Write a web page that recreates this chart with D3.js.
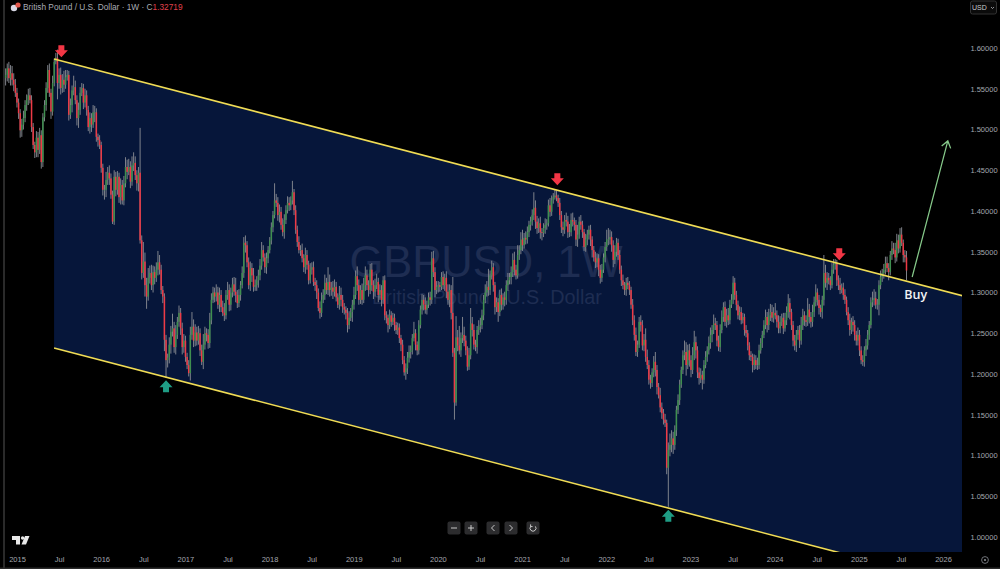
<!DOCTYPE html>
<html><head><meta charset="utf-8">
<script src="https://cdn.jsdelivr.net/npm/d3@7/dist/d3.min.js"></script>
<style>html,body{margin:0;padding:0;background:#000;overflow:hidden}svg{display:block}text{font-family:"Liberation Sans",Arial,sans-serif}</style>
</head><body><svg id="c" width="1000" height="569"></svg>
<script>
// weekly closes, in thousandths of a dollar
const closes = [
1563,1567,1575,1563,1569,1561,1555,1545,1533,1520,
1499,1506,1514,1530,1536,1542,1536,1503,1481,1472,
1490,1475,1493,1460,1515,1530,1551,1573,1545,1522,
1557,1583,1588,1557,1567,1551,1561,1555,1564,1567,
1518,1530,1548,1552,1536,1514,1524,1545,1551,1533,
1542,1524,1503,1514,1506,1521,1521,1491,1487,1481,
1453,1426,1426,1438,1447,1440,1420,1387,1442,1426,
1442,1417,1432,1413,1434,1454,1448,1454,1436,1456,
1459,1444,1434,1447,1364,1324,1338,1309,1295,1318,
1324,1309,1325,1318,1328,1337,1328,1303,1295,1242,
1217,1220,1236,1252,1256,1233,1248,1264,1275,1256,
1233,1241,1221,1211,1201,1248,1258,1241,1251,1241,
1250,1229,1215,1236,1250,1248,1238,1266,1291,1300,
1295,1300,1285,1297,1282,1275,1272,1297,1303,1285,
1300,1310,1301,1297,1287,1297,1309,1324,1361,1358,
1337,1309,1330,1321,1307,1309,1315,1321,1333,1352,
1343,1331,1342,1352,1364,1380,1395,1413,1410,1395,
1399,1383,1374,1389,1401,1410,1407,1413,1423,1401,
1377,1362,1352,1352,1342,1331,1346,1334,1315,1328,
1331,1313,1309,1300,1281,1275,1291,1297,1312,1303,
1313,1303,1306,1301,1307,1294,1285,1297,1291,1282,
1279,1275,1260,1269,1276,1285,1297,1320,1309,1291,
1303,1291,1309,1321,1309,1303,1328,1309,1301,1309,
1313,1297,1303,1291,1315,1272,1269,1260,1272,1264,
1269,1260,1254,1257,1244,1236,1217,1202,1207,1220,
1227,1229,1244,1250,1236,1229,1260,1279,1291,1285,
1279,1285,1294,1291,1342,1325,1303,1307,1309,1307,
1319,1309,1318,1301,1291,1303,1275,1226,1165,1245,
1235,1229,1244,1248,1241,1229,1209,1223,1262,1254,
1236,1233,1254,1258,1260,1272,1291,1300,1307,1303,
1321,1331,1309,1282,1288,1276,1297,1285,1294,1291,
1309,1315,1319,1325,1340,1328,1321,1346,1352,1365,
1358,1367,1365,1374,1383,1387,1395,1404,1387,1379,
1385,1374,1373,1379,1383,1385,1407,1399,1413,1417,
1419,1416,1410,1395,1380,1377,1389,1387,1374,1374,
1389,1387,1383,1365,1371,1387,1383,1374,1356,1365,
1371,1377,1365,1352,1343,1337,1342,1328,1318,1328,
1343,1356,1365,1365,1368,1358,1340,1350,1361,1346,
1328,1315,1309,1303,1312,1309,1303,1285,1266,1248,
1227,1236,1264,1260,1235,1242,1221,1211,1193,1189,
1202,1215,1205,1184,1174,1159,1152,1144,1140,1085,
1107,1113,1121,1113,1131,1156,1168,1187,1205,1223,
1227,1211,1229,1217,1205,1223,1239,1229,1202,1195,
1199,1193,1211,1221,1229,1238,1248,1254,1262,1260,
1241,1233,1254,1270,1282,1264,1272,1266,1285,1291,
1312,1297,1285,1272,1276,1266,1270,1254,1250,1235,
1223,1221,1211,1217,1211,1211,1229,1238,1248,1260,
1270,1260,1272,1276,1269,1275,1272,1264,1256,1264,
1269,1256,1266,1276,1287,1276,1260,1241,1235,1248,
1254,1241,1260,1272,1266,1264,1279,1270,1264,1276,
1288,1300,1291,1281,1276,1291,1324,1312,1318,1315,
1309,1328,1334,1336,1315,1309,1303,1306,1297,1291,
1276,1266,1254,1264,1260,1248,1241,1248,1229,1217,
1215,1229,1235,1248,1260,1288,1291,1293,1285,1285,
1309,1319,1324,1328,1336,1330,1325,1346,1354,1352,
1343,1364,1354,1371,1361,1346,1343,1327];
// upper wick of each week, thousandths
const upperWicks = [
9,8,6,8,10,9,8,7,6,5,
5,7,9,6,7,8,9,6,5,4,
8,7,9,6,5,6,7,6,8,5,
9,4,6,10,8,9,7,11,9,6,
5,8,6,14,8,6,9,7,6,5,
8,6,5,7,6,9,8,5,4,6,
4,5,6,10,7,9,6,5,8,6,
7,5,8,6,9,12,9,10,7,11,
13,8,6,7,55,6,24,11,9,12,
9,10,8,7,9,14,9,6,5,4,
6,5,9,7,18,8,12,6,9,6,
7,8,6,5,6,10,18,9,10,7,
9,6,7,13,8,6,7,9,8,7,
6,10,7,9,6,8,12,6,10,7,
6,8,9,17,6,7,5,8,7,9,
5,6,8,6,9,7,5,7,8,10,
6,5,7,5,4,6,5,21,8,7,
9,6,8,7,6,8,7,5,14,4,
6,5,7,6,8,5,9,6,5,8,
6,7,5,6,5,8,9,7,10,6,
18,9,7,8,9,6,5,11,9,6,
5,4,6,8,5,6,10,7,12,7,
6,8,9,11,7,6,7,8,6,8,
10,5,7,6,5,6,5,4,7,5,
6,5,4,6,5,4,6,5,6,7,
8,6,5,14,5,4,6,5,7,6,
9,5,6,7,8,9,6,7,5,4,
6,7,5,8,9,7,6,44,6,26,
9,24,7,22,10,6,5,9,19,8,
7,6,5,8,9,7,6,10,7,22,
6,8,5,4,6,5,6,8,5,7,
6,9,5,7,8,10,6,12,6,9,
12,6,8,7,5,6,7,19,9,7,
6,8,5,6,8,5,7,9,6,5,
7,6,4,6,5,7,6,9,7,10,
8,9,5,6,12,6,8,5,4,7,
6,5,6,4,5,7,6,5,6,7,
5,6,12,14,9,7,6,8,6,5,
6,5,7,4,6,7,5,4,7,6,
9,5,6,8,6,7,14,9,6,6,
5,7,12,6,5,9,6,5,7,4,
9,14,10,8,6,5,7,6,4,6,
14,12,7,8,6,10,14,7,5,6,
8,5,6,7,5,8,9,6,11,7,
5,6,7,8,6,7,8,9,6,7,
8,6,5,5,7,6,5,4,6,4,
4,5,4,7,6,9,7,6,5,6,
9,6,8,10,9,7,12,6,8,7,
5,6,9,7,11,6,4,5,7,6,
5,6,10,8,5,6,14,7,6,9,
7,10,5,6,4,5,22,10,7,6,
5,8,7,5,4,6,9,5,6,7,
4,6,8,5,7,6,5,9,6,5,
6,5,8,6,5,6,10,11,8,7,
6,8,5,7,8,8,6,5,9,7,
9,8,7,8,9,4,6,8];
// lower wick of each week, thousandths
const lowerWicks = [
7,9,8,6,9,7,8,5,6,7,
9,8,6,5,7,6,4,6,5,7,
6,9,5,8,6,5,7,6,5,9,
5,4,3,20,7,8,6,9,5,4,
7,5,9,6,5,9,12,6,4,8,
6,7,5,8,9,4,12,6,8,5,
6,7,12,9,6,8,5,3,4,8,
6,7,9,5,6,5,9,4,8,5,
7,6,9,10,4,8,6,14,15,5,
7,6,9,8,5,7,6,5,8,14,
22,9,7,11,6,7,9,5,6,8,
9,7,6,5,4,9,6,8,7,6,
5,7,4,9,6,8,7,6,5,4,
7,6,5,9,6,4,7,5,6,8,
7,6,5,9,6,5,7,4,6,9,
6,5,7,8,6,5,7,9,6,5,
5,7,8,6,4,5,6,4,5,7,
9,6,5,8,5,4,7,6,5,6,
5,6,4,7,5,6,8,6,5,4,
6,5,7,8,4,7,5,4,6,5,
6,8,7,9,6,5,4,6,8,7,
6,8,9,5,4,12,6,5,7,6,
5,6,4,7,6,8,5,7,9,6,
5,9,6,8,5,6,7,9,5,6,
4,7,5,6,6,8,5,4,9,7,
6,8,5,4,7,6,5,4,6,7,
5,6,4,7,5,6,9,5,7,6,
4,5,7,8,6,9,8,5,21,4,
7,5,8,6,7,6,5,4,5,8,
6,5,8,6,7,5,6,4,5,7,
6,5,8,9,6,12,5,7,6,8,
6,7,5,9,6,7,5,4,6,5,
7,4,6,5,6,7,5,6,9,7,
6,8,9,5,7,6,4,6,5,4,
3,4,5,6,7,8,5,6,7,6,
5,6,7,8,9,5,6,7,5,6,
7,6,8,9,5,7,6,8,7,5,
4,6,5,7,6,8,9,5,6,6,
5,7,5,6,7,5,6,5,6,7,
5,6,4,8,6,7,6,5,6,7,
5,6,8,9,4,6,7,6,5,8,
48,8,9,11,6,7,5,6,4,5,
6,13,5,8,9,5,6,10,7,8,
6,12,5,4,6,5,7,9,5,6,
7,5,6,4,6,5,7,6,5,4,
5,6,7,5,6,5,4,7,5,6,
6,5,9,6,5,6,5,4,6,4,
5,9,6,7,5,6,5,7,6,6,
5,7,4,6,7,9,6,7,6,8,
6,9,5,6,7,6,5,8,7,6,
6,5,7,8,6,8,7,6,9,5,
6,4,5,6,7,6,5,4,6,5,
4,6,7,5,8,7,6,6,7,5,
5,6,7,5,6,4,6,7,5,6,
13,5,6,7,6,5,10,4,6,5,
7,5,6,5,4,9,6,12];

const priceTicks = [1000,1050,1100,1150,1200,1250,1300,1350,1400,1450,1500,1550,1600];
const timeLabels = ["2015","Jul","2016","Jul","2017","Jul","2018","Jul","2019","Jul","2020","Jul","2021","Jul","2022","Jul","2023","Jul","2024","Jul","2025","Jul","2026"];
const upperChannel = [[30.9,1586.5],[591.4,1296]];
const lowerChannel = [[30.9,1232],[591.4,941.5]];
const redMarkers = [[35.4,1596],[341.5,1439],[515.5,1347]];
const greenMarkers = [[100,1185],[410,1026]];
const targetArrow = [[560.5,1319],[582.5,1486]];
const buyLabel = [560,1299.5];
const closeLabel = "1.32719";

const W=1000,H=569,plotR=962,plotB=552;
const svg=d3.select("#c");
const x=d3.scaleLinear().domain([0,557]).range([4,906.5]);
const y=d3.scaleLinear().domain([1000,1600]).range([537,48]);
const tx=d3.scaleLinear().domain([0,22]).range([17,943]);

svg.append("defs").append("clipPath").attr("id","plot").append("rect").attr("x",5).attr("y",0).attr("width",plotR-5).attr("height",plotB);
const g=svg.append("g").attr("clip-path","url(#plot)");

// channel fill
g.append("path").attr("fill","#06163a")
 .attr("d",d3.line().x(d=>x(d[0])).y(d=>y(d[1]))([...upperChannel,lowerChannel[1],lowerChannel[0]]));

// watermark
g.append("text").attr("x",486).attr("y",277).attr("text-anchor","middle").attr("font-size",43.5).attr("fill","#1e2d52").text("GBPUSD, 1W");
g.append("text").attr("x",487).attr("y",304).attr("text-anchor","middle").attr("font-size",19.8).attr("fill","#1e2d52").text("British Pound / U.S. Dollar");

// candles
const bars=closes.map((c,i)=>{const o=i?closes[i-1]:c-4;return {i,o,c,h:Math.max(o,c)+upperWicks[i],l:Math.min(o,c)-lowerWicks[i]};});
g.append("g").selectAll("line").data(bars).join("line")
 .attr("x1",d=>x(d.i)).attr("x2",d=>x(d.i)).attr("y1",d=>y(d.h)).attr("y2",d=>y(d.l))
 .attr("stroke","#85888f").attr("stroke-width",0.95);
g.append("g").selectAll("rect").data(bars).join("rect")
 .attr("x",d=>x(d.i)-0.75).attr("width",1.5)
 .attr("y",d=>y(Math.max(d.o,d.c))).attr("height",d=>Math.max(0.6,Math.abs(y(d.o)-y(d.c))))
 .attr("fill",d=>d.c>=d.o?"#3f8f4f":"#ee3a46");

// channel lines
const ln=d3.line().x(d=>x(d[0])).y(d=>y(d[1]));
[upperChannel,lowerChannel].forEach(s=>g.append("path").attr("d",ln(s)).attr("fill","none").attr("stroke","#f0dc55").attr("stroke-width",1.6));

// markers
const arrow="M-3,-6H3V-1H6.5L0,6L-6.5,-1H-3Z";
g.selectAll(".rm").data(redMarkers).join("path").attr("class","rm").attr("d",arrow).attr("fill","#f23645")
 .attr("transform",d=>`translate(${x(d[0])},${y(d[1])})`);
g.selectAll(".gm").data(greenMarkers).join("path").attr("class","gm").attr("d",arrow).attr("fill","#1f9d85")
 .attr("transform",d=>`translate(${x(d[0])},${y(d[1])}) rotate(180)`);

// target arrow
const [a,b]=targetArrow;
const ax=x(a[0]),ay=y(a[1]),bx=x(b[0]),by=y(b[1]);
const ang=Math.atan2(by-ay,bx-ax);
const head=t=>[bx-8*Math.cos(ang+t),by-8*Math.sin(ang+t)];
g.append("path").attr("fill","none").attr("stroke","#86c98a").attr("stroke-width",1.25)
 .attr("d",`M${ax},${ay}L${bx},${by}M${head(0.62)}L${bx},${by}L${head(-0.62)}`);
g.append("text").attr("x",x(buyLabel[0])).attr("y",y(buyLabel[1])+6).attr("dx",-7).attr("font-size",12.5).attr("font-weight",600)
 .style("font-family","'Open Sans',sans-serif").attr("fill","#f2f3f5").text("Buy");

// price axis
const axisY=d3.axisRight(y).tickValues(priceTicks).tickSize(0).tickFormat(d=>(d/1000).toFixed(5));
const gy=svg.append("g").attr("transform","translate(984,0)").call(axisY);
gy.select(".domain").remove();
gy.selectAll("text").attr("x",0).attr("dy","0.32em").attr("text-anchor","middle").attr("fill","#a4a7af").attr("font-size",7.5).style("font-family","'Liberation Sans',sans-serif");

// time axis
const axisX=d3.axisBottom(tx).tickValues(d3.range(timeLabels.length)).tickSize(0).tickFormat(i=>timeLabels[i]);
const gx=svg.append("g").attr("transform","translate(0,556)").call(axisX);
gx.select(".domain").remove();
gx.selectAll("text").attr("y",1).attr("dy","0.71em").attr("fill","#a4a7af").attr("font-size",7.5).style("font-family","'Liberation Sans',sans-serif");

// frame
svg.append("rect").attr("x",3).attr("y",0).attr("width",2).attr("height",H).attr("fill","#2a2a2a");
svg.append("rect").attr("x",0).attr("y",567.5).attr("width",W).attr("height",1.5).attr("fill","#2a2a2a");

// header
svg.append("circle").attr("cx",14).attr("cy",8).attr("r",3.2).attr("fill","#d8d8e4");
svg.append("circle").attr("cx",18).attr("cy",5).attr("r",2.6).attr("fill","#e2574c");
const hd=svg.append("text").attr("x",23).attr("y",10).attr("font-size",8.3).attr("fill","#a9acb4");
hd.append("tspan").text("British Pound / U.S. Dollar · 1W · C");
hd.append("tspan").attr("fill","#e0404c").text(closeLabel);

// USD button
svg.append("rect").attr("x",970.5).attr("y",1).attr("width",26).attr("height",13).attr("rx",2).attr("fill","#0b0b0b").attr("stroke","#333");
svg.append("text").attr("x",972).attr("y",10).attr("font-size",7).attr("fill","#c8cad0").text("USD");
svg.append("path").attr("d","M991,7l1.5,1.5L994,7").attr("fill","none").attr("stroke","#c8cad0").attr("stroke-width",0.7);

// nav buttons
const navX=[454,471,493,511,533];
svg.selectAll(".nb").data(navX).join("rect").attr("class","nb").attr("x",d=>d-6.5).attr("y",521.5).attr("width",13).attr("height",13).attr("rx",2).attr("fill","#2c2c2e");
const navIcons=["M-3,0H3","M-3,0H3M0,-3V3","M1.5,-3L-1.5,0L1.5,3","M-1.5,-3L1.5,0L-1.5,3","M2.4,-1.6A3,3 0 1 1 -2.4,-1.6M-2.4,-3.6V-1.4H-0.4"];
svg.selectAll(".ni").data(navIcons).join("path").attr("class","ni").attr("d",d=>d).attr("fill","none").attr("stroke","#d8d8d8").attr("stroke-width",0.9)
 .attr("transform",(d,i)=>`translate(${navX[i]},528)`);

// logo
svg.append("path").attr("fill","#e8e8e8").attr("d","M12,536H20V544.5H16V540H12ZM25,536H29.5L26,544.5H21.5Z");
svg.append("circle").attr("cx",22.6).attr("cy",538).attr("r",1.7).attr("fill","#e8e8e8");

// settings
svg.append("circle").attr("cx",985).attr("cy",560).attr("r",3.4).attr("fill","none").attr("stroke","#8a8d94").attr("stroke-width",0.8);
svg.append("circle").attr("cx",985).attr("cy",560).attr("r",1.1).attr("fill","#8a8d94");
</script></body></html>
